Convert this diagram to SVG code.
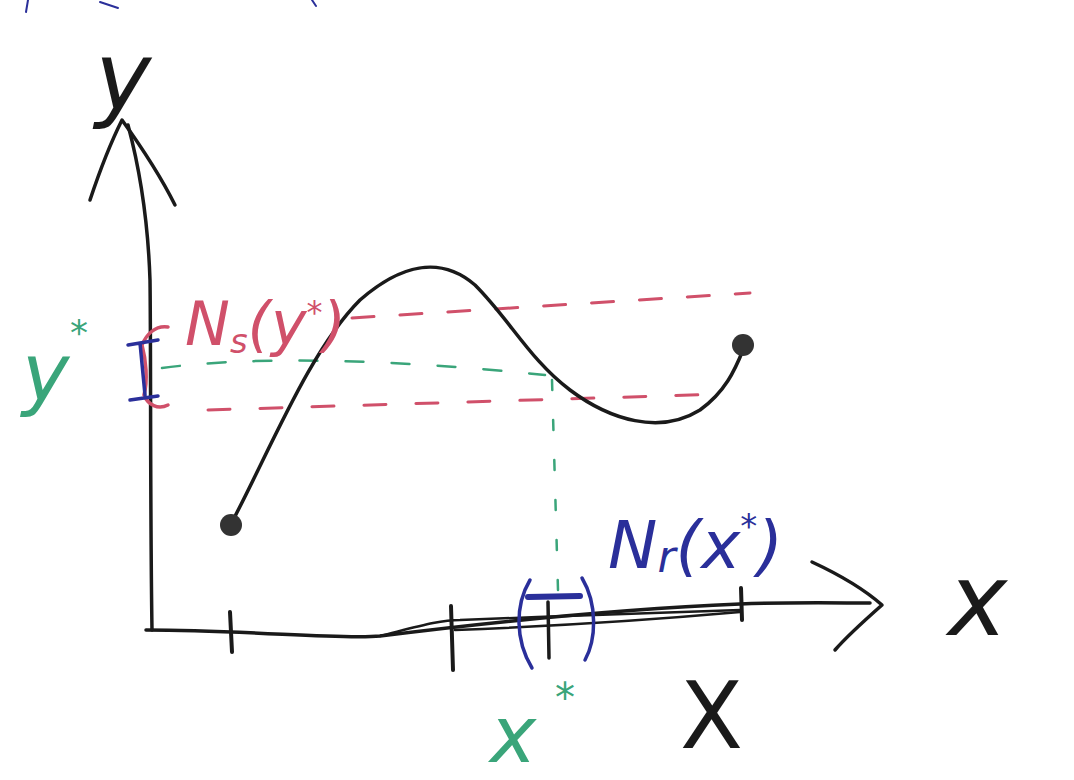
<svg xmlns="http://www.w3.org/2000/svg" width="1074" height="780" viewBox="0 0 1074 780">
<style>
.ink{fill:none;stroke:#1a1a1a;stroke-width:3.5;stroke-linecap:round;stroke-linejoin:round}
.red{fill:none;stroke:#d0506a;stroke-width:3;stroke-linecap:round}
.grn{fill:none;stroke:#3aa57a;stroke-width:2.5;stroke-linecap:round}
.blu{fill:none;stroke:#2a2f9a;stroke-width:3.5;stroke-linecap:round}
.t{font-family:"DejaVu Sans",sans-serif;font-style:italic}
</style>
<rect width="1074" height="780" fill="#ffffff"/>
<g id="topmarks" class="blu" style="stroke-width:2">
<path d="M28 0 L26 12"/><path d="M100 2 L118 8"/><path d="M312 0 L316 6"/>
</g>
<g id="axes">
<path class="ink" d="M152 630 C150 500 151 350 150 280 C148 220 140 170 128 125"/>
<path class="ink" d="M90 200 C100 170 112 140 122 120 C140 145 160 175 175 205"/>
<path class="ink" d="M146 630 C250 630 340 640 380 636 C460 626 600 610 740 604 C790 602 840 603 870 603"/>
<path class="ink" style="stroke-width:2.5" d="M380 636 C420 626 440 620 460 620 C560 616 680 612 740 610"/>
<path class="ink" style="stroke-width:2.5" d="M455 630 C560 626 650 620 740 612"/>
<path class="ink" d="M812 562 C840 575 865 590 882 605 C865 620 848 635 835 650"/>
<path class="ink" style="stroke-width:4" d="M230 612 L232 652"/>
<path class="ink" style="stroke-width:4" d="M451 606 L453 670"/>
<path class="ink" style="stroke-width:4" d="M741 588 L742 620"/>
</g>
<g id="guides">
<path class="red" stroke-dasharray="22 26" d="M352 318 L750 293"/>
<path class="red" stroke-dasharray="22 30" d="M208 410 L726 394"/>
<path class="grn" stroke-dasharray="18 28" d="M162 368 C260 355 400 360 545 375"/>
<path class="grn" stroke-dasharray="10 30" d="M552 380 L558 590"/>
</g>
<g id="curve">
<path class="ink" d="M232 522 C270 450 310 350 360 300 C400 265 440 255 475 285 C510 320 530 360 570 390 C610 420 660 435 700 410 C725 392 735 370 743 350"/>
<circle cx="231" cy="525" r="11" fill="#333"/>
<circle cx="743" cy="345" r="11" fill="#333"/>
</g>
<g id="brackets">
<path class="red" style="stroke-width:3.5" d="M168 327 C155 325 146 335 142 345 C146 360 148 380 144 395 C148 405 158 410 168 405"/>
<path class="blu" d="M128 345 L158 340 M140 343 L145 395 M130 400 L158 396"/>
<path class="blu" d="M530 580 C515 605 515 640 532 668 M582 578 C598 605 596 640 585 660"/>
<path class="blu" style="stroke-width:6" d="M528 597 L580 596"/>
<path class="ink" d="M548 602 L549 658"/>
</g>
<g id="labels">
<text class="t" x="95" y="110" font-size="95" fill="#1a1a1a">y</text>
<text class="t" x="22" y="400" font-size="80" fill="#3aa57a">y</text>
<text class="t" x="70" y="345" font-size="36" fill="#3aa57a">*</text>
<text class="t" x="185" y="345" font-size="60" fill="#d0506a">N<tspan font-size="34" dy="8">s</tspan><tspan dy="-8">(y</tspan><tspan font-size="32" dy="-22">*</tspan><tspan dy="22">)</tspan></text>
<text class="t" x="608" y="568" font-size="66" fill="#2a2f9a">N<tspan font-size="44" dy="4">r</tspan><tspan dy="-4">(x</tspan><tspan font-size="34" dy="-30">*</tspan><tspan dy="30">)</tspan></text>
<text class="t" x="948" y="635" font-size="100" fill="#1a1a1a">x</text>
<text class="t" x="490" y="762" font-size="78" fill="#3aa57a">x</text>
<text class="t" x="555" y="712" font-size="40" fill="#3aa57a">*</text>
<text x="680" y="748" font-size="92" fill="#1a1a1a" font-family="DejaVu Sans,sans-serif">X</text>
</g>
</svg>
